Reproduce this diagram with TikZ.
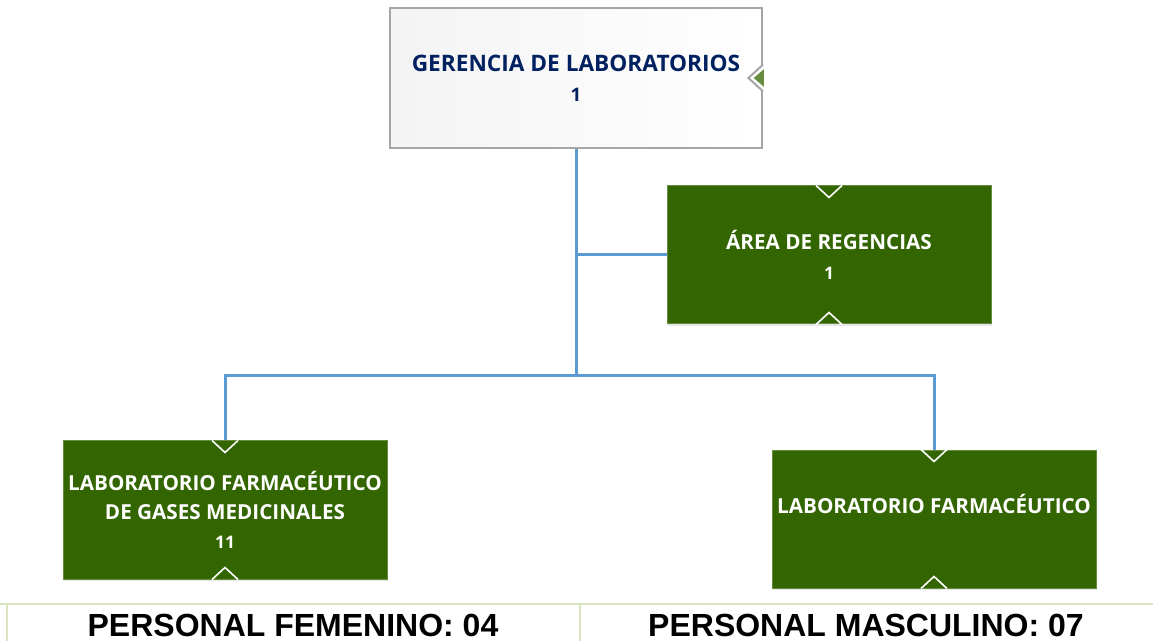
\documentclass[tikz,border=0pt]{standalone}
\usepackage{fontspec}
\setmainfont{Open Sans}
\newfontfamily\arialfont{Liberation Sans}
\usetikzlibrary{shadows}
\definecolor{labgreen}{HTML}{336600}
\definecolor{linkblue}{HTML}{5B9BD5}
\definecolor{navytext}{HTML}{002060}
\definecolor{cellgreen}{HTML}{D7E4BD}
\newcommand{\numtxt}[1]{{\fontsize{13}{15}\selectfont #1}}
\begin{document}
\begin{tikzpicture}[x=0.75pt,y=-0.75pt,
    unit/.style={draw=labgreen!75!white, line width=0.75pt, fill=labgreen,
      text=white, font=\bfseries\fontsize{15.5}{22}\selectfont, align=center,
      minimum width=243pt, minimum height=103.5pt, inner sep=0pt,
      drop shadow={opacity=0.2, shadow xshift=0.5pt, shadow yshift=-1.5pt}},
    link/.style={draw=linkblue, line width=2.25pt},
    notch/.style={draw=white, line width=1.2pt},
    cell/.style={font=\arialfont\bfseries\fontsize{24}{28}\selectfont}]
  \useasboundingbox (0,0) rectangle (1153,641);
  % boxes
  \node[draw=gray!70, line width=1.5pt, left color=gray!9, right color=white,
    text=navytext, font=\bfseries\fontsize{17}{22.5}\selectfont, align=center,
    minimum width=279pt, minimum height=105pt, inner sep=0pt]
    (ger) at (576,78) {GERENCIA DE LABORATORIOS\\{\fontsize{14}{16}\selectfont 1}};
  \node[unit] (area) at (829,255) {ÁREA DE REGENCIAS\\\numtxt{1}};
  \node[unit] (gases) at (225,510) {LABORATORIO FARMACÉUTICO\\DE GASES MEDICINALES\\\numtxt{11}};
  \node[unit] (farma) at (934,519) {LABORATORIO FARMACÉUTICO\\\mbox{}};
  % connectors
  \coordinate (hub) at (576,376);
  \draw[link] (ger.south) -- (hub);
  \draw[link] (ger.south |- area.west) -- (area.west);
  \draw[link] (gases.north) |- (hub) -| (farma.north);
  % notches
  \foreach \b in {area,gases,farma} {
    \draw[notch] ([xshift=-9.75pt]\b.north) -- ([yshift=-9pt]\b.north) -- ([xshift=9.75pt]\b.north);
    \draw[notch] ([xshift=-9.75pt]\b.south) -- ([yshift=9pt]\b.south) -- ([xshift=9.75pt]\b.south);
  }
  \fill[white] ([yshift=10pt]ger.east) -- ([xshift=-11pt]ger.east) -- ([yshift=-10pt]ger.east)
    -- ([xshift=1pt,yshift=-10pt]ger.east) -- ([xshift=1pt,yshift=10pt]ger.east) -- cycle;
  \draw[gray!70, line width=1.5pt] ([yshift=10pt]ger.east) -- ([xshift=-11pt]ger.east) -- ([yshift=-10pt]ger.east);
  \fill[labgreen!75!white] ([xshift=0.6pt,yshift=6.5pt]ger.east) -- ([xshift=-7pt]ger.east) -- ([xshift=0.6pt,yshift=-6.5pt]ger.east) -- cycle;
  % staff table
  \draw[cellgreen, line width=1.5pt] (0,604) -- (1153,604);
  \draw[cellgreen, line width=1.5pt] (7,604) -- (7,641);
  \draw[cellgreen, line width=1.5pt] (580,604) -- (580,641);
  \node[cell] (fem) at (293,625) {PERSONAL FEMENINO: 04};
  \node[cell] (masc) at (866,625) {PERSONAL MASCULINO: 07};
\end{tikzpicture}
\end{document}
